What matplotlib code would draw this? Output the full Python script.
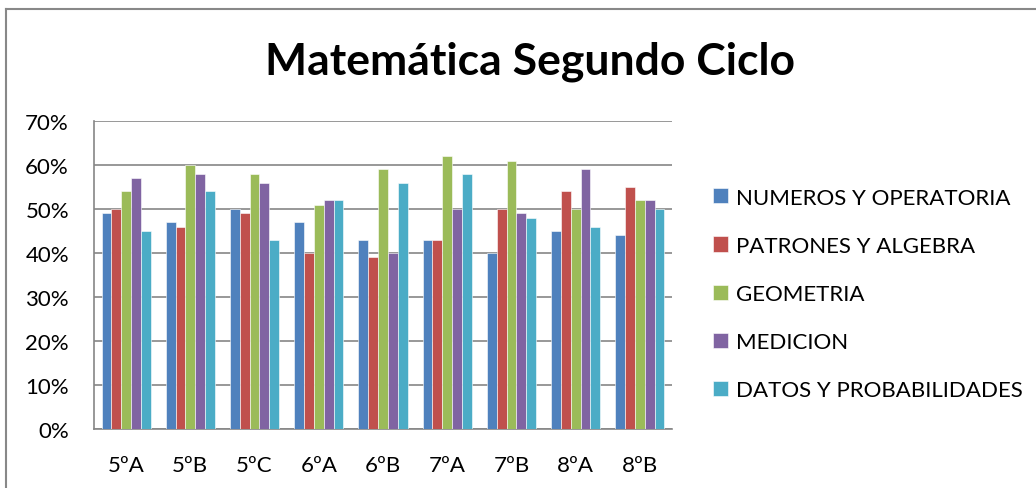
import numpy as np
import matplotlib.pyplot as plt
from matplotlib.lines import Line2D

plt.rcParams['font.family'] = ['Lato', 'DejaVu Sans']

# datos del grafico
cursos = ['5ºA', '5ºB', '5ºC', '6ºA', '6ºB', '7ºA', '7ºB', '8ºA', '8ºB']
numeros = [49, 47, 50, 47, 43, 43, 40, 45, 44]
patrones = [50, 46, 49, 40, 39, 43, 50, 54, 55]
geometria = [54, 60, 58, 51, 59, 62, 61, 50, 52]
medicion = [57, 58, 56, 52, 40, 50, 49, 59, 52]
datos = [45, 54, 43, 52, 56, 58, 48, 46, 50]

series = [
    ('NUMEROS Y OPERATORIA', numeros, '#4F81BD'),
    ('PATRONES Y ALGEBRA', patrones, '#C0504D'),
    ('GEOMETRIA', geometria, '#9BBB59'),
    ('MEDICION', medicion, '#8064A2'),
    ('DATOS Y PROBABILIDADES', datos, '#4BACC6'),
]

W, H = 1036, 489
fig = plt.figure(figsize=(W / 100, H / 100), dpi=100)
ax = fig.add_axes([94 / W, 1 - 430 / H, 578 / W, 308 / H])

x = np.arange(len(cursos))
ancho = 0.153
handles = []
for i, (nombre, valores, color) in enumerate(series):
    b = ax.bar(x + (i - 2) * ancho, valores, ancho, color=color,
               edgecolor='white', linewidth=0.4, label=nombre, zorder=3)
    handles.append(b)

ax.set_xlim(-0.5, len(cursos) - 0.5)
ax.set_ylim(0, 70)
ax.set_yticks(range(0, 71, 10))
ax.set_yticklabels([f'{v}%' for v in range(0, 71, 10)])
ax.set_xticks(x)
ax.set_xticklabels(cursos)
ax.tick_params(axis='both', length=0, labelsize=16)
ax.tick_params(axis='y', pad=18)
ax.tick_params(axis='x', pad=18.5)

ax.yaxis.grid(True, color='#868686', linewidth=1.2, zorder=0)
ax.set_axisbelow(True)
for lado in ['top', 'right']:
    ax.spines[lado].set_visible(False)
for lado in ['left', 'bottom']:
    ax.spines[lado].set_color('#868686')
    ax.spines[lado].set_linewidth(1.2)

fig.text(530 / W, 1 - 62 / H, 'Matemática Segundo Ciclo', ha='center',
         va='center', fontsize=32, fontweight='bold')

fig.legend(handles=handles, loc='center left',
           bbox_to_anchor=(693 / W, 1 - 295 / H), frameon=False,
           fontsize=16, handlelength=0.68, handleheight=0.68,
           handletextpad=0.35, labelspacing=1.27)

# borde del area del grafico
fig.add_artist(Line2D([6 / W, 6 / W], [0, 1 - 9.5 / H], transform=fig.transFigure,
                      color='#888888', linewidth=1.5))
fig.add_artist(Line2D([6 / W, 1], [1 - 9.5 / H, 1 - 9.5 / H], transform=fig.transFigure,
                      color='#888888', linewidth=1.5))

fig.savefig('out.png', dpi=100)
